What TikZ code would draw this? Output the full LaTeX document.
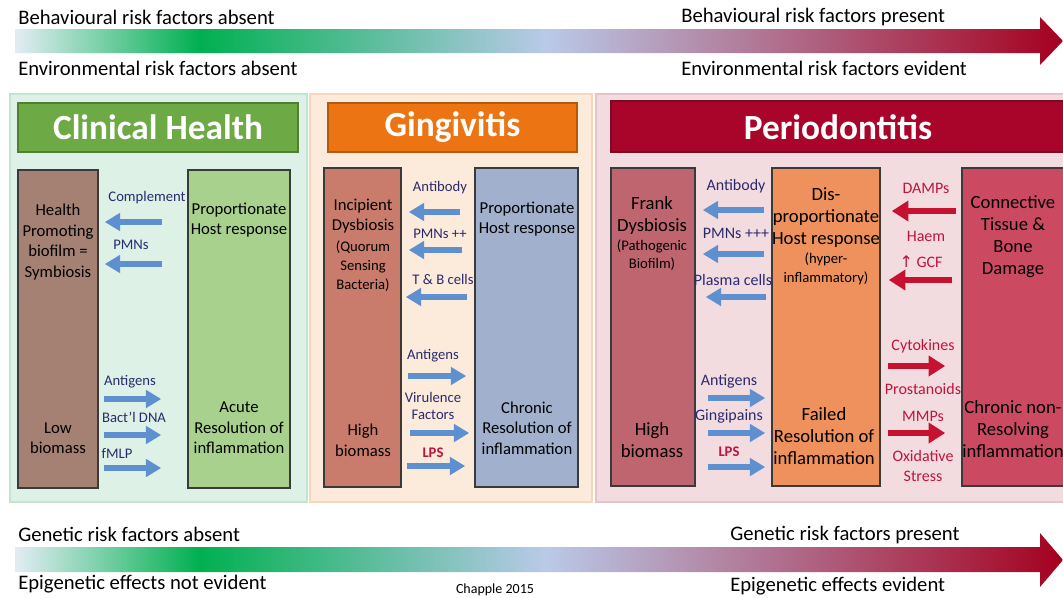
\documentclass[tikz,border=0pt]{standalone}
\usepackage{fontspec}
\setmainfont{Carlito}
\newfontfamily\symfont{DejaVu Sans}
\usetikzlibrary{arrows.meta,fit,positioning}

\definecolor{panelGfill}{HTML}{DDF1E7}
\definecolor{panelGline}{HTML}{C2E5D2}
\definecolor{panelOfill}{HTML}{FCEADA}
\definecolor{panelOline}{HTML}{F6D7BC}
\definecolor{panelRfill}{HTML}{F3DCE0}
\definecolor{panelRline}{HTML}{E6C2C9}
\definecolor{bannerG}{HTML}{6DAA45}
\definecolor{bannerGline}{HTML}{507E32}
\definecolor{bannerO}{HTML}{EC7412}
\definecolor{bannerOline}{HTML}{B45A0E}
\definecolor{bannerR}{HTML}{A9042A}
\definecolor{bannerRline}{HTML}{7C0A22}
\definecolor{bioHfill}{HTML}{A58174}
\definecolor{hostHfill}{HTML}{A8D18D}
\definecolor{bioGfill}{HTML}{C97C6C}
\definecolor{hostGfill}{HTML}{A1B1CD}
\definecolor{bioPfill}{HTML}{BF6570}
\definecolor{hostPfill}{HTML}{EE915C}
\definecolor{dmgPfill}{HTML}{CB4A62}
\definecolor{boxline}{HTML}{3A3A3A}
\definecolor{lblblue}{HTML}{2A2A6E}
\definecolor{lblred}{HTML}{C0143C}
\definecolor{arrowblue}{HTML}{5E90D0}
\definecolor{arrowred}{HTML}{C41230}
\definecolor{barlight}{HTML}{E3ECF4}
\definecolor{bargreen}{HTML}{00B050}
\definecolor{barblue}{HTML}{B9CAE8}
\definecolor{barred}{HTML}{A5001F}

\pgfdeclarehorizontalshading{riskshade}{100bp}{color(0bp)=(barlight); color(25bp)=(barlight); color(33.8bp)=(bargreen); color(50.3bp)=(barblue); color(75bp)=(barred); color(100bp)=(barred)}

\tikzset{
  risktxt/.style={font=\fontsize{15.5}{18}\selectfont, anchor=west, inner sep=0pt},
  bannertxt/.style={font=\fontsize{26.5}{30}\selectfont\bfseries, text=white, inner sep=0pt},
  panelbox/.style={line width=1.5pt, inner sep=0pt},
  colbox/.style={draw=boxline, line width=1.2pt, inner sep=0pt},
  boxtxt/.style={font=\fontsize{12.5}{15.4}\selectfont, align=center, inner sep=0pt},
  bigtxt/.style={font=\fontsize{14}{16.5}\selectfont, align=center, inner sep=0pt},
  smalltxt/.style={font=\fontsize{11}{14}\selectfont, align=center, inner sep=0pt},
  lbl/.style={font=\fontsize{11}{13}\selectfont, text=lblblue, align=center, inner sep=0pt},
  biglbl/.style={font=\fontsize{12}{15}\selectfont, text=lblblue, align=center, inner sep=0pt},
  redlbl/.style={font=\fontsize{12}{15}\selectfont, text=lblred, align=center, inner sep=0pt},
  lpslbl/.style={font=\fontsize{11}{13}\selectfont\bfseries, text=lblred, inner sep=0pt},
  bluearr/.style={draw=arrowblue, line width=4.5pt, -{Triangle[length=11.5pt,width=13pt]}},
  redarr/.style={draw=arrowred, line width=5pt, -{Triangle[length=12.5pt,width=15pt]}}
}

\begin{document}
\begin{tikzpicture}[x=0.75pt,y=0.75pt,yscale=-1,xscale=1]
\useasboundingbox (0,0) rectangle (1063,597);
\clip (0,0) rectangle (1063,597);

%Risk bars
\shade[shading=riskshade] (15,29) -- (1040,29) -- (1040,17) -- (1063,41) -- (1040,65) -- (1040,53) -- (15,53) -- cycle;
\shade[shading=riskshade] (15,547) -- (1040,547) -- (1040,533) -- (1063,560) -- (1040,587) -- (1040,572) -- (15,572) -- cycle;

% Text Node
\node[risktxt] (behabs) at (18,17) {Behavioural risk factors absent};
\node[risktxt] (envabs) at (18,68) {Environmental risk factors absent};
\node[risktxt] (behpre) at (681,17) {Behavioural risk factors present};
\node[risktxt] (envevi) at (681,68) {Environmental risk factors evident};
\node[risktxt] (genabs) at (18,534) {Genetic risk factors absent};
\node[risktxt] (epiabs) at (18,584) {Epigenetic effects not evident};
\node[risktxt] (genpre) at (730,535) {Genetic risk factors present};
\node[risktxt] (epievi) at (730,586) {Epigenetic effects evident};
\node[font=\fontsize{10.5}{12}\selectfont, inner sep=0pt] (cite) at (495,590) {Chapple 2015};

%Panels
\node[panelbox, draw=panelGline, fill=panelGfill, fit={(10,94) (307,502)}] (panelH) {};
\node[panelbox, draw=panelOline, fill=panelOfill, fit={(310,94) (592,502)}] (panelG) {};
\node[panelbox, draw=panelRline, fill=panelRfill, fit={(596,94) (1075,502)}] (panelP) {};

%Banners
\node[draw=bannerGline, line width=1.5pt, fill=bannerG, inner sep=0pt, fit={(18,103) (298,152)}] (bannerH) {};
\node[bannertxt] at (bannerH.center) {Clinical Health};
\node[draw=bannerOline, line width=1.5pt, fill=bannerO, inner sep=0pt, fit={(328,103) (577,152)}] (bannerGi) {};
\node[bannertxt] at (bannerGi.center) {Gingivitis};
\node[draw=bannerRline, line width=1.5pt, fill=bannerR, inner sep=0pt, fit={(611,101) (1075,152)}] (bannerP) {};
\node[bannertxt] at (838,127) {Periodontitis};

%Clinical health columns
\node[colbox, fill=bioHfill, fit={(18,170) (98,488)}] (bioH) {};
\node[colbox, fill=hostHfill, fit={(188,170) (290,488)}] (hostH) {};
\node[boxtxt] (bioHtop) at (58,242) {Health\\Promoting\\biofilm =\\Symbiosis};
\node[boxtxt] (bioHbot) at (58,438) {Low\\biomass};
\node[boxtxt] (hostHtop) at (239,220) {Proportionate\\Host response};
\node[boxtxt] (hostHbot) at (239,428) {Acute\\Resolution of\\inflammation};

\draw[bluearr, shorten <=18.75pt, shorten >=4.5pt] (hostH.west |- 0,222) -- (bioH.east |- 0,222);
\draw[bluearr, shorten <=18.75pt, shorten >=4.5pt] (hostH.west |- 0,264) -- (bioH.east |- 0,264);
\draw[bluearr, shorten <=3.75pt, shorten >=19.5pt] (bioH.east |- 0,399) -- (hostH.west |- 0,399);
\draw[bluearr, shorten <=3.75pt, shorten >=19.5pt] (bioH.east |- 0,435) -- (hostH.west |- 0,435);
\draw[bluearr, shorten <=3.75pt, shorten >=19.5pt] (bioH.east |- 0,468) -- (hostH.west |- 0,468);
\node[lbl] (complH) at (147,198) {Complement};
\node[lbl] (pmnH) at (131,245) {PMNs};
\node[lbl] (antiH) at (130,382) {Antigens};
\node[lbl] (dnaH) at (134,417) {Bact’l DNA};
\node[lbl] (fmlpH) at (117,453) {fMLP};

%Gingivitis columns
\node[colbox, fill=bioGfill, fit={(324,168) (401,487)}] (bioG) {};
\node[colbox, fill=hostGfill, fit={(475,168) (578,487)}] (hostG) {};
\node[boxtxt] (bioGtop) at (363,216) {Incipient\\Dysbiosis};
\node[smalltxt] (bioGsub) at (363,266) {(Quorum\\Sensing\\Bacteria)};
\node[boxtxt] (bioGbot) at (363,440) {High\\biomass};
\node[boxtxt] (hostGtop) at (527,219) {Proportionate\\Host response};
\node[boxtxt] (hostGbot) at (527,428) {Chronic\\Resolution of\\inflammation};

\draw[bluearr, shorten <=10.5pt, shorten >=5.25pt] (hostG.west |- 0,212) -- (bioG.east |- 0,212);
\draw[bluearr, shorten <=9pt, shorten >=5.25pt] (hostG.west |- 0,250) -- (bioG.east |- 0,250);
\draw[bluearr, shorten <=5.25pt, shorten >=3pt] (hostG.west |- 0,297) -- (bioG.east |- 0,297);
\draw[bluearr, shorten <=4.5pt, shorten >=6pt] (bioG.east |- 0,376) -- (hostG.west |- 0,376);
\draw[bluearr, shorten <=6pt, shorten >=3.75pt] (bioG.east |- 0,433) -- (hostG.west |- 0,433);
\draw[bluearr, shorten <=3.75pt, shorten >=6.75pt] (bioG.east |- 0,466) -- (hostG.west |- 0,466);
\node[lbl] (abG) at (440,188) {Antibody};
\node[lbl] (pmnG) at (440,234) {PMNs ++};
\node[lbl] (tbG) at (443,279) {T \& B cells};
\node[lbl] (antiG) at (433,356) {Antigens};
\node[lbl] (virG) at (433,406) {Virulence\\Factors};
\node[lpslbl] (lpsG) at (433,453) {LPS};

%Periodontitis columns
\node[colbox, fill=bioPfill, fit={(611,168) (695,486)}] (bioP) {};
\node[colbox, fill=hostPfill, fit={(772,168) (880,486)}] (hostP) {};
\node[colbox, fill=dmgPfill, fit={(962,168) (1075,486)}] (dmgP) {};
\node[bigtxt] (bioPtop) at (652,216) {Frank\\Dysbiosis};
\node[smalltxt] (bioPsub) at (652,255) {(Pathogenic\\Biofilm)};
\node[bigtxt] (bioPbot) at (652,440) {High\\biomass};
\node[bigtxt] (hostPtop) at (826,218) {Dis-\\proportionate\\Host response};
\node[smalltxt] (hostPsub) at (826,269) {(hyper-\\inflammatory)};
\node[bigtxt] (hostPbot) at (824,436) {Failed\\Resolution of\\inflammation};
\node[bigtxt] (dmgPtop) at (1013,237) {Connective\\Tissue \&\\Bone\\Damage};
\node[bigtxt] (dmgPbot) at (1013,429) {Chronic non-\\Resolving\\inflammation};

\draw[bluearr, shorten <=5.25pt, shorten >=5.25pt] (hostP.west |- 0,210) -- (bioP.east |- 0,210);
\draw[bluearr, shorten <=5.25pt, shorten >=5.25pt] (hostP.west |- 0,254) -- (bioP.east |- 0,254);
\draw[bluearr, shorten <=3.75pt, shorten >=7.5pt] (hostP.west |- 0,297) -- (bioP.east |- 0,297);
\draw[bluearr, shorten <=9pt, shorten >=4.5pt] (bioP.east |- 0,398) -- (hostP.west |- 0,398);
\draw[bluearr, shorten <=9pt, shorten >=4.5pt] (bioP.east |- 0,433) -- (hostP.west |- 0,433);
\draw[bluearr, shorten <=9pt, shorten >=4.5pt] (bioP.east |- 0,467) -- (hostP.west |- 0,467);
\node[biglbl] (abP) at (736,186) {Antibody};
\node[biglbl] (pmnP) at (736,233) {PMNs +++};
\node[biglbl] (plP) at (733,280) {Plasma cells};
\node[biglbl] (antiP) at (729,381) {Antigens};
\node[biglbl] (gingP) at (729,416) {Gingipains};
\node[lpslbl] (lpsP) at (729,452) {LPS};

\draw[redarr, shorten <=3.75pt, shorten >=8.25pt] (dmgP.west |- 0,211) -- (hostP.east |- 0,211);
\draw[redarr, shorten <=6.75pt, shorten >=6pt] (dmgP.west |- 0,280) -- (hostP.east |- 0,280);
\draw[redarr, shorten <=5.25pt, shorten >=12pt] (hostP.east |- 0,366) -- (dmgP.west |- 0,366);
\draw[redarr, shorten <=5.25pt, shorten >=12pt] (hostP.east |- 0,433) -- (dmgP.west |- 0,433);
\node[redlbl] (dampP) at (926,188) {DAMPs};
\node[redlbl] (haemP) at (926,236) {Haem};
\node[redlbl] (gcfP) at (921,262) {{\symfont ↑} GCF};
\node[redlbl] (cytoP) at (923,346) {Cytokines};
\node[redlbl] (prosP) at (923,389) {Prostanoids};
\node[redlbl] (mmpP) at (923,416) {MMPs};
\node[redlbl] (oxP) at (923,466) {Oxidative\\Stress};

\end{tikzpicture}
\end{document}
